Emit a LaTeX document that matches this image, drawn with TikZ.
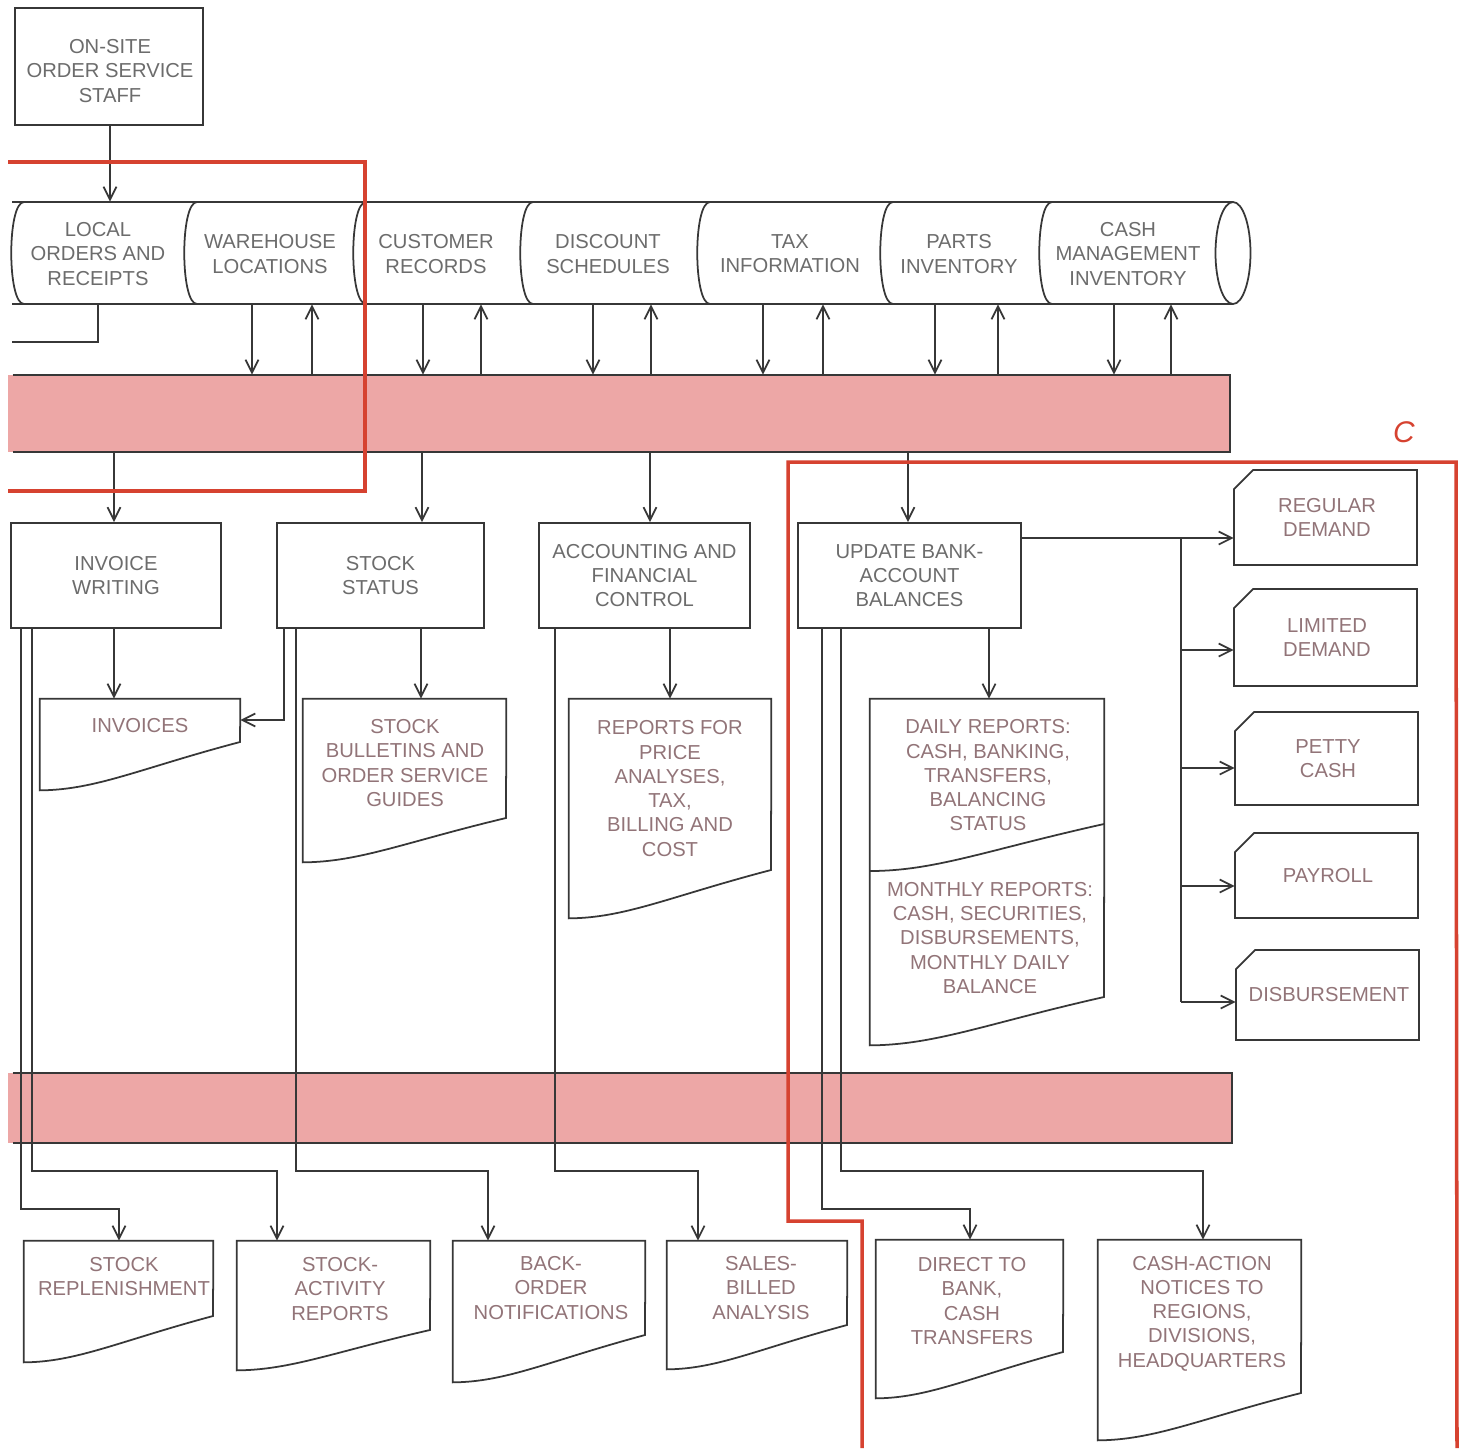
\documentclass[tikz,border=0pt]{standalone}
\usepackage{fontspec}
\setmainfont{Liberation Sans}
\usetikzlibrary{arrows.meta,positioning,calc,fit}
\definecolor{buspink}{RGB}{237,167,166}
\definecolor{framered}{RGB}{214,66,48}
\definecolor{inkgray}{RGB}{108,108,108}
\definecolor{inkmauve}{RGB}{146,116,120}
\definecolor{linegray}{RGB}{55,55,55}

\tikzset{
  lbl/.style={align=center,text=inkgray,inner sep=0pt,
    font=\fontsize{11.5}{13.8}\selectfont},
  doclbl/.style={lbl,text=inkmauve},
  flow/.style={draw=linegray,line width=1pt},
  arr/.style={flow,-{Straight Barb[length=2.6mm,width=2.6mm]}},
  procbox/.style={flow,lbl,rectangle},
  region/.style={draw=framered,line width=2pt},
  bus/.style={fill=buspink,inner sep=0pt},
}

% printout with a torn bottom edge: name, left, right, top, right end, left end, text x, text y, text
\newcommand{\docshape}[9]{%
  \node[fit={(#2,#4) (#3,#6)},inner sep=0pt] (#1) {};
  \draw[flow] (#1.north west) -- (#1.north east) -- (#3,#5)
    .. controls ({#2+0.5*(#3-#2)},{#5+0.55*(#6-#5)}) and ({#2+0.28*(#3-#2)},#6) .. (#1.south west) -- cycle;
  \node[doclbl] (#1-t) at (#7,#8) {#9};
}
% punched card: name, left, right, top, bottom, text
\newcommand{\cardshape}[6]{%
  \node[fit={(#2,#4) (#3,#5)},inner sep=0pt] (#1) {};
  \draw[flow] (#2,{#4+19}) -- ({#2+19},#4) -- (#3,#4) -- (#3,#5) -- (#2,#5) -- cycle;
  \node[doclbl] (#1-t) at ([xshift=0.03cm]#1.center) {#6};
}

\begin{document}
\begin{tikzpicture}[x=0.02cm,y=-0.02cm]
\useasboundingbox[fill=white] (0,0) rectangle (1468,1448);

% transaction buses
\node[bus,fit={(8,375) (1230,452)}] (bus1) {};
\draw[flow] ($(bus1.north west)+(5,0)$) -- (bus1.north east) -- (bus1.south east) -- ($(bus1.south west)+(5,0)$);
\node[bus,fit={(8,1073) (1232,1143)}] (bus2) {};
\draw[flow] ($(bus2.north west)+(5,0)$) -- (bus2.north east) -- (bus2.south east) -- ($(bus2.south west)+(5,0)$);

% order staff
\node[procbox,minimum width=3.76cm,minimum height=2.34cm] (staff) at (109,66.5) {};
\node[lbl] (staff-t) at (110,71) {ON-SITE\\ORDER SERVICE\\STAFF};

% master files on one drum
\node[fit={(12,202) (1250,304)},inner sep=0pt] (drum) {};
\draw[flow] (12,202) -- (1233,202) (12,304) -- (1233,304);
\foreach \cx in {24,197,366,533,710,893,1052}
  \draw[flow] (\cx,202) .. controls ({\cx-17},202) and ({\cx-17},304) .. (\cx,304);
\draw[flow] (1233,253) ellipse[x radius=0.35cm,y radius=1.02cm];
\foreach \n/\cx/\txt in {loc/98/{LOCAL\\ORDERS AND\\RECEIPTS},
    wh/270/{WAREHOUSE\\LOCATIONS}, cust/436/{CUSTOMER\\RECORDS},
    disc/608/{DISCOUNT\\SCHEDULES}, tax/790/{TAX\\INFORMATION},
    parts/959/{PARTS\\INVENTORY}, cash/1128/{CASH\\MANAGEMENT\\INVENTORY}}
  \node[lbl] (\n) at (\cx,254) {\txt};

\draw[arr] (staff.south -| 110,0) -- (drum.north -| 110,0);
\coordinate (locend) at (12,342);
\draw[flow] (drum.south -| 98,0) |- (locend);

% read / write between files and bus
\foreach \xd/\xu in {252/312, 423/481, 593/651, 763/823, 935/998, 1114/1171}{
  \draw[arr] (drum.south -| \xd,0) -- (bus1.north -| \xd,0);
  \draw[arr] (bus1.north -| \xu,0) -- (drum.south -| \xu,0);
}

% processing steps
\node[procbox,minimum width=4.2cm,minimum height=2.1cm] (invw) at (116,575.5) {INVOICE\\WRITING};
\node[procbox,minimum width=4.14cm,minimum height=2.1cm] (stst) at (380.5,575.5) {STOCK\\STATUS};
\node[procbox,minimum width=4.22cm,minimum height=2.1cm] (acct) at (644.5,575.5) {ACCOUNTING AND\\FINANCIAL\\CONTROL};
\node[procbox,minimum width=4.46cm,minimum height=2.1cm] (bank) at (909.5,575.5) {UPDATE BANK-\\ACCOUNT\\BALANCES};

\foreach \p/\x in {invw/114, stst/422, acct/650, bank/908}
  \draw[arr] (bus1.south -| \x,0) -- (\p.north -| \x,0);

% reports
\docshape{invd}{40}{240}{699}{742}{790}{140}{726}{INVOICES}
\docshape{bull}{303}{506}{699}{818}{862}{405}{763}{STOCK\\BULLETINS AND\\ORDER SERVICE\\GUIDES}
\docshape{rept}{569}{771}{699}{870}{918}{670}{788.5}{REPORTS FOR\\PRICE\\ANALYSES,\\TAX,\\BILLING AND\\COST}
\docshape{daily}{870}{1104}{699}{997}{1045}{988}{775.5}{DAILY REPORTS:\\CASH, BANKING,\\TRANSFERS,\\BALANCING\\STATUS}
\draw[flow] (1104,824) .. controls (987,850) and (935,871) .. (870,871);
\node[doclbl] (month) at (990,938) {MONTHLY REPORTS:\\CASH, SECURITIES,\\DISBURSEMENTS,\\MONTHLY DAILY\\BALANCE};

\docshape{repl}{24}{213}{1241}{1316}{1362}{124}{1276.5}{STOCK\\REPLENISHMENT}
\docshape{actv}{237}{430}{1241}{1330}{1370}{340}{1289}{STOCK-\\ACTIVITY\\REPORTS}
\docshape{back}{453}{645}{1241}{1335}{1382}{551}{1288}{BACK-\\ORDER\\NOTIFICATIONS}
\docshape{sales}{667}{847}{1241}{1325}{1369}{761}{1288}{SALES-\\BILLED\\ANALYSIS}
\docshape{dirb}{876}{1063}{1240}{1352}{1398}{972}{1301}{DIRECT TO\\BANK,\\CASH\\TRANSFERS}
\docshape{cact}{1098}{1301}{1240}{1393}{1440}{1202}{1313.5}{CASH-ACTION\\NOTICES TO\\REGIONS,\\DIVISIONS,\\HEADQUARTERS}

\draw[arr] (invw.south -| 114,0) -- (invd.north -| 114,0);
\draw[arr] (stst.south -| 421,0) -- (bull.north -| 421,0);
\draw[arr] (acct.south -| 670,0) -- (rept.north -| 670,0);
\draw[arr] (bank.south -| 989,0) -- (daily.north -| 989,0);
\draw[arr] (stst.south -| 284,0) |- (invd.east |- 0,720);

% long runs across the lower bus
\foreach \s/\xs/\yh/\d/\xd in {invw/21/1209/repl/119, invw/32/1171/actv/277,
    stst/296/1171/back/488, acct/555/1171/sales/698,
    bank/822/1209/dirb/970, bank/841/1171/cact/1203}
  \draw[arr] (\s.south -| \xs,0) -- (\xs,\yh) -| (\d.north -| \xd,0);

% cash cards
\cardshape{reg}{1234}{1417}{470}{565}{REGULAR\\DEMAND}
\cardshape{lim}{1234}{1417}{589}{686}{LIMITED\\DEMAND}
\cardshape{pet}{1235}{1418}{712}{805}{PETTY\\CASH}
\cardshape{pay}{1235}{1418}{833}{918}{PAYROLL}
\cardshape{dis}{1236}{1419}{950}{1040}{DISBURSEMENT}

\coordinate (fork) at (1181,538);
\draw[arr] (bank.east |- fork) -- (reg.west |- fork);
\draw[flow] (fork) -- (fork |- 0,1002);
\foreach \c/\y in {lim/650, pet/768, pay/886, dis/1002}
  \draw[arr] (fork |- 0,\y) -- (\c.west |- 0,\y);

% subsystem outlines
\draw[region] (8,162) -| (365,491) -- (8,491);
\draw[region] (862,1448) |- (788,1221) -- (788,462) -- (1456,462) -- (1457,1448);
\node[text=framered,font=\fontsize{17}{17}\selectfont\itshape] (tagC) at (1404,432) {C};
\end{tikzpicture}
\end{document}
